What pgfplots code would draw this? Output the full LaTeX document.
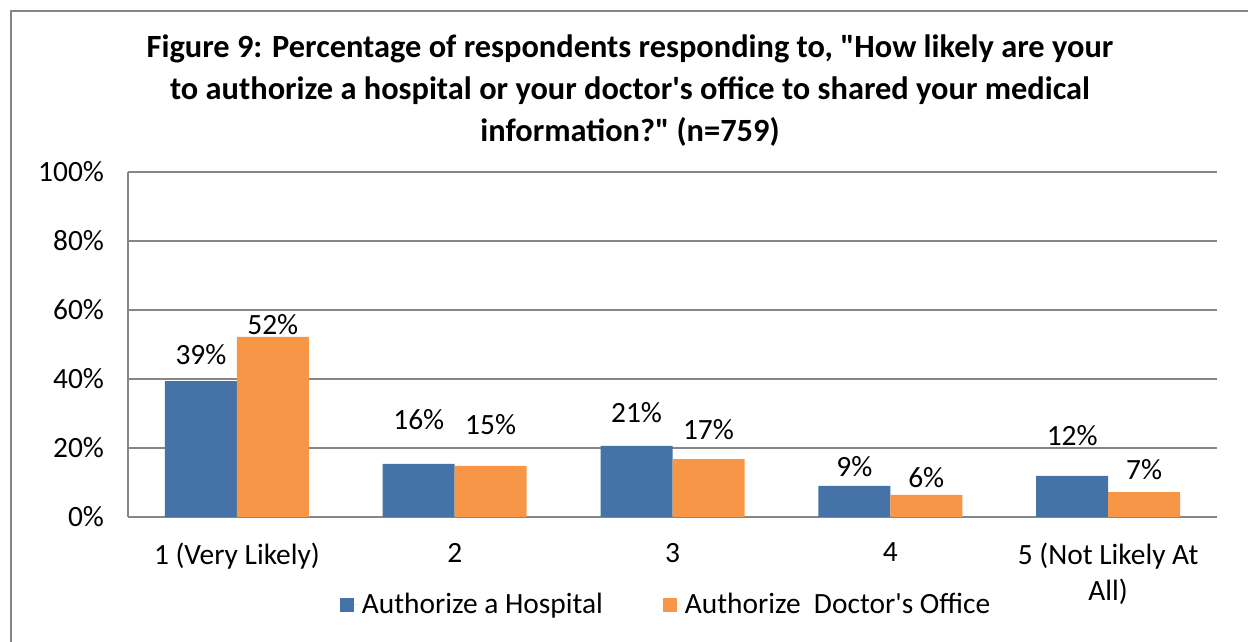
\documentclass[border=0pt]{standalone}
\usepackage{pgfplots}
\pgfplotsset{compat=1.18}
\usepackage{pgfplotstable}
\usepackage{fontspec}
\setmainfont{Carlito}[Ligatures=TeXOff]
\definecolor{cblue}{RGB}{69,114,167}
\definecolor{corange}{RGB}{247,150,70}
\definecolor{cgrid}{RGB}{134,134,134}
\pgfplotstableread{
x y
0 39.4
1 15.4
2 20.6
3 9.0
4 11.9
}\hosp
\pgfplotstableread{
x y
0 52.2
1 14.8
2 16.8
3 6.4
4 7.2
}\doc
\pgfplotstableread{
x y lab
-0.165 47.0 39
0.835 28.1 16
1.835 30.4 21
2.835 14.5 9
3.835 23.5 12
}\hosplab
\pgfplotstableread{
x y lab
0.165 55.7 52
1.165 26.7 15
2.165 25.2 17
3.165 11.3 6
4.165 13.6 7
}\doclab
\begin{document}
\begin{tikzpicture}[x=0.5bp,y=0.5bp]
\useasboundingbox (0,0) rectangle (1248,641);
\draw[cgrid, line width=1bp] (11,-20) -- (11,630) -- (1270,630);
\node[align=center, font=\fontsize{16.2bp}{21bp}\selectfont\bfseries] at (630,550)
 {Figure 9: Percentage of respondents responding to, "How likely are your\\
  to authorize a hospital or your doctor's office to shared your medical\\
  information?" (n=759)};
\begin{axis}[
  at={(64bp,62bp)}, anchor=south west,
  scale only axis, width=544.5bp, height=172.5bp,
  xmin=-0.5, xmax=4.5, ymin=0, ymax=100,
  ytick={0,20,...,100},
  yticklabel={\pgfmathprintnumber{\tick}\%},
  xtick={0,1,2,3,4},
  xticklabels={1 (Very Likely),2,3,4,{5 (Not Likely At\\All)}},
  major tick length=0pt,
  axis x line*=bottom, axis y line*=left,
  axis line style={cgrid, line width=1bp, -},
  ymajorgrids, grid style={cgrid, line width=1bp},
  font=\fontsize{14.7bp}{17.8bp}\selectfont,
  tick label style={font=\fontsize{14.7bp}{17.8bp}\selectfont},
  /pgf/number format/assume math mode=true,
  yticklabel style={anchor=east, xshift=-8.5bp},
  xticklabel style={align=center, anchor=north, yshift=-9.5bp},
  legend style={at={(0.495,-0.255)}, anchor=center, draw=none, legend columns=2,
    font=\fontsize{14.7bp}{17.8bp}\selectfont,
    /tikz/every even column/.append style={column sep=28bp}},
  legend image code/.code={\fill[#1] (0,-3.5bp) rectangle (7bp,3.5bp);\path (0,0) -- (9bp,0);},
  clip=false,
]
\addplot[ybar, bar width=36bp, bar shift=-18bp, fill=cblue, draw=none] table[x=x,y=y] {\hosp};
\addlegendentry{Authorize a Hospital}
\addplot[ybar, bar width=36bp, bar shift=18bp, fill=corange, draw=none] table[x=x,y=y] {\doc};
\addlegendentry{Authorize\ \ Doctor's Office}
\addplot[draw=none, mark=none, point meta=explicit symbolic,
  nodes near coords={\pgfplotspointmeta\%},
  every node near coord/.append style={anchor=center, font=\fontsize{14.7bp}{17.8bp}\selectfont}]
  table[x=x,y=y,meta=lab] {\hosplab};
\addplot[draw=none, mark=none, point meta=explicit symbolic,
  nodes near coords={\pgfplotspointmeta\%},
  every node near coord/.append style={anchor=center, font=\fontsize{14.7bp}{17.8bp}\selectfont}]
  table[x=x,y=y,meta=lab] {\doclab};
\end{axis}
\end{tikzpicture}
\end{document}
